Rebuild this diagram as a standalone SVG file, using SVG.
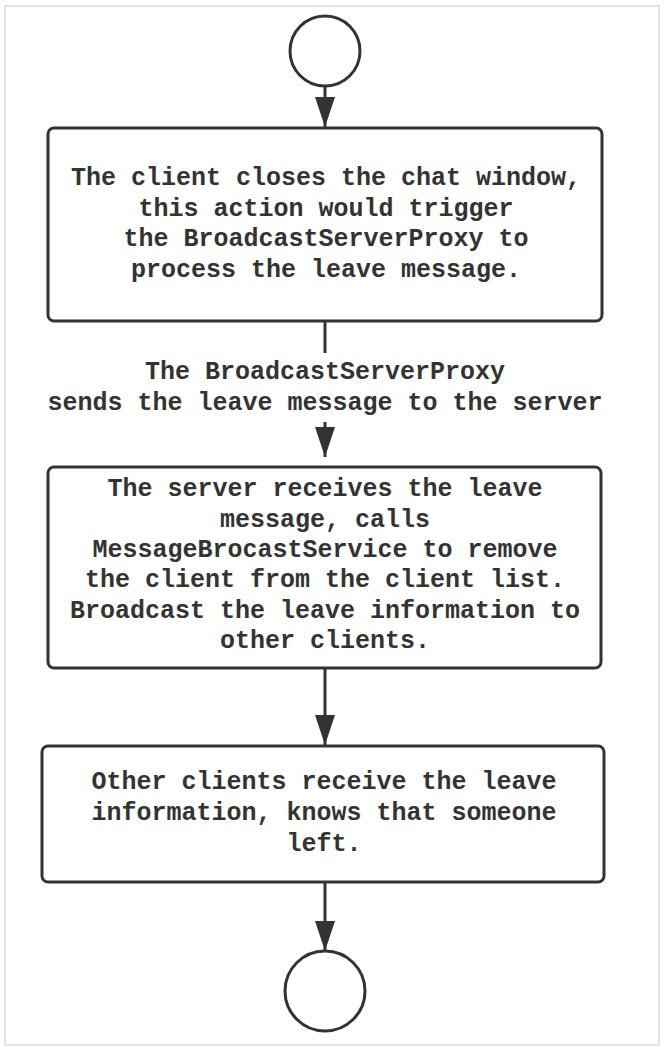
<svg xmlns="http://www.w3.org/2000/svg" width="664" height="1050" viewBox="0 0 664 1050">
  <style>
    .frame { fill: #ffffff; stroke: #dcdcdc; stroke-width: 1.5; }
    .box { fill: #ffffff; stroke: #333333; stroke-width: 3; }
    .term { fill: #ffffff; stroke: #333333; stroke-width: 3; }
    .conn { stroke: #333333; stroke-width: 3; fill: none; }
    .t { font-family: "Liberation Mono", "Courier New", monospace; font-weight: bold; font-size: 25px; fill: #333333; text-anchor: middle; }
  </style>
  <defs>
    <marker id="arrow" markerUnits="userSpaceOnUse" markerWidth="30" markerHeight="20" refX="30" refY="10" orient="auto" viewBox="0 0 30 20">
      <path d="M0,0 L30,10 L0,20 Z" fill="#333333"/>
    </marker>
  </defs>
  <rect width="664" height="1050" fill="#ffffff"/>
  <rect class="frame" x="5" y="6" width="654" height="1039"/>

  <g id="connectors">
    <line class="conn" x1="325" y1="87" x2="325" y2="127" marker-end="url(#arrow)"/>
    <line class="conn" x1="325" y1="321" x2="325" y2="353"/>
    <line class="conn" x1="325" y1="422" x2="325" y2="457" marker-end="url(#arrow)"/>
    <text class="t" x="325" y="379">The BroadcastServerProxy</text>
    <text class="t" x="325" y="410">sends the leave message to the server</text>
    <line class="conn" x1="325" y1="669" x2="325" y2="745" marker-end="url(#arrow)"/>
    <line class="conn" x1="325" y1="882" x2="325" y2="951" marker-end="url(#arrow)"/>
  </g>

  <g id="start">
    <circle class="term" cx="325" cy="51" r="35"/>
  </g>

  <g id="box1">
    <rect class="box" x="48" y="128" width="554" height="193" rx="6"/>
    <text class="t" x="326" y="185">The client closes the chat window,</text>
    <text class="t" x="326" y="215.5">this action would trigger</text>
    <text class="t" x="326" y="246">the BroadcastServerProxy to</text>
    <text class="t" x="326" y="276.5">process the leave message.</text>
  </g>

  <g id="box2">
    <rect class="box" x="48" y="467" width="553" height="201" rx="6"/>
    <text class="t" x="325" y="496">The server receives the leave</text>
    <text class="t" x="325" y="526.5">message, calls</text>
    <text class="t" x="325" y="557">MessageBrocastService to remove</text>
    <text class="t" x="325" y="587">the client from the client list.</text>
    <text class="t" x="325" y="617.5">Broadcast the leave information to</text>
    <text class="t" x="325" y="648">other clients.</text>
  </g>

  <g id="box3">
    <rect class="box" x="42" y="746" width="562" height="136" rx="6"/>
    <text class="t" x="324" y="789">Other clients receive the leave</text>
    <text class="t" x="324" y="820">information, knows that someone</text>
    <text class="t" x="324" y="851">left.</text>
  </g>

  <g id="end">
    <circle class="term" cx="325" cy="991" r="40"/>
  </g>
</svg>
